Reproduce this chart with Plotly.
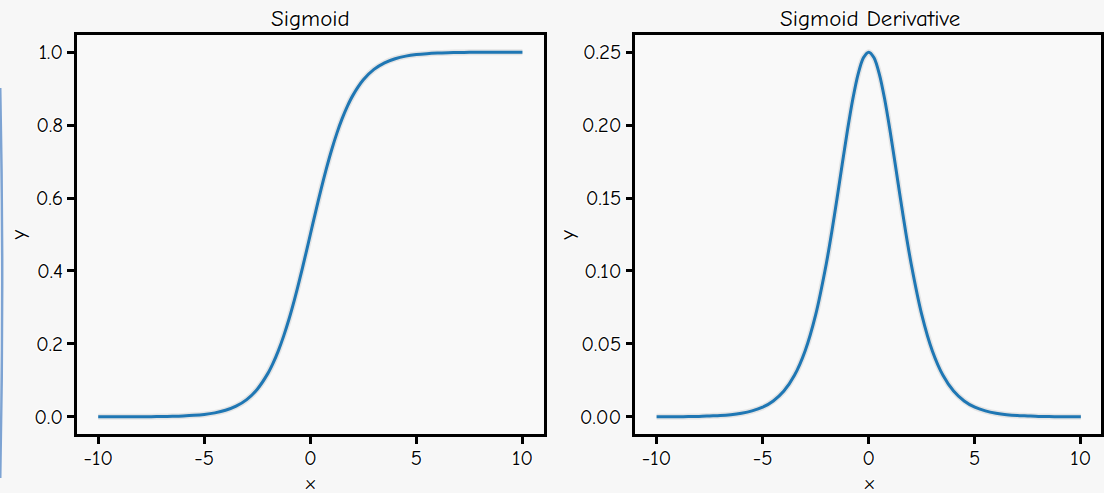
import plotly.graph_objects as go

# x values at which the curves were read
x_vals = [-10, -9.5, -9, -8.5, -8, -7.5, -7, -6.5, -6, -5.5, -5, -4.5, -4, -3.5, -3,
          -2.5, -2, -1.75, -1.5, -1.25, -1, -0.75, -0.5, -0.25, 0, 0.25, 0.5, 0.75, 1,
          1.25, 1.5, 1.75, 2, 2.5, 3, 3.5, 4, 4.5, 5,
          5.5, 6, 6.5, 7, 7.5, 8, 8.5, 9, 9.5, 10]

sigmoid_vals = [0.00005, 0.00007, 0.0001, 0.0002, 0.0003, 0.0006, 0.0009, 0.0015, 0.0025, 0.0041,
                0.0067, 0.0110, 0.0180, 0.0293, 0.0474, 0.0759, 0.1192, 0.1480, 0.1824, 0.2227,
                0.2689, 0.3208, 0.3775, 0.4378, 0.5000, 0.5622, 0.6225, 0.6792, 0.7311, 0.7773,
                0.8176, 0.8520, 0.8808, 0.9241, 0.9526, 0.9707, 0.9820, 0.9890,
                0.9933, 0.9959, 0.9975, 0.9985, 0.9991, 0.9994, 0.9997, 0.9998, 0.9999, 0.99993,
                0.99995]

deriv_vals = [0.00005, 0.00007, 0.0001, 0.0002, 0.0003, 0.0006, 0.0009, 0.0015, 0.0025, 0.0041,
              0.0066, 0.0109, 0.0177, 0.0285, 0.0452, 0.0701, 0.1050, 0.1261, 0.1491, 0.1731,
              0.1966, 0.2179, 0.2350, 0.2461, 0.2500, 0.2461, 0.2350, 0.2179, 0.1966, 0.1731,
              0.1491, 0.1261, 0.1050, 0.0701, 0.0452, 0.0285, 0.0177, 0.0109,
              0.0066, 0.0041, 0.0025, 0.0015, 0.0009, 0.0006, 0.0003, 0.0002, 0.0001, 0.00007,
              0.00005]

titles = ["Sigmoid", "Sigmoid Derivative"]
x_ticks = [-10, -5, 0, 5, 10]
x_ticktext = ["-10", "-5", "0", "5", "10"]
y1_ticks = [0.0, 0.2, 0.4, 0.6, 0.8, 1.0]
y1_ticktext = ["0.0", "0.2", "0.4", "0.6", "0.8", "1.0"]
y2_ticks = [0.00, 0.05, 0.10, 0.15, 0.20, 0.25]
y2_ticktext = ["0.00", "0.05", "0.10", "0.15", "0.20", "0.25"]

FONT = "Comic Sans MS, Comic Neue, Humor Sans, Noto Sans, sans-serif"
BLUE = "#1f77b4"
HALO = "1px 1px 1px #ffffff, -1px -1px 1px #ffffff, 1px -1px 1px #ffffff, -1px 1px 1px #ffffff"
TICK_SIZE = 21
TITLE_SIZE = 23

fig = go.Figure()

for xa, ya, yv in [("x", "y", sigmoid_vals), ("x2", "y2", deriv_vals)]:
    fig.add_trace(go.Scatter(x=x_vals, y=yv, xaxis=xa, yaxis=ya, mode="lines",
                             line=dict(color="#e4e4e4", width=6, shape="spline", smoothing=0.8),
                             hoverinfo="skip", showlegend=False))
    fig.add_trace(go.Scatter(x=x_vals, y=yv, xaxis=xa, yaxis=ya, mode="lines",
                             line=dict(color=BLUE, width=3, shape="spline", smoothing=0.8),
                             showlegend=False))

axis_common = dict(showline=True, mirror=True, linecolor="black", linewidth=2.5,
                   ticks="outside", ticklen=7, tickwidth=3, tickcolor="black",
                   showgrid=False, zeroline=False,
                   tickfont=dict(family=FONT, size=TICK_SIZE, color="black", shadow=HALO))

fig.update_layout(
    width=1104, height=493,
    margin=dict(l=77, r=0, t=35, b=59),
    paper_bgcolor="#f7f7f7",
    plot_bgcolor="#f9f9f9",
    font=dict(family=FONT, color="black"),
    xaxis=dict(domain=[0, 0.4557], range=[-11, 11], tickvals=x_ticks, ticktext=x_ticktext,
               anchor="y", ticklabelstandoff=-4, **axis_common),
    yaxis=dict(domain=[0, 1], range=[-0.047, 1.047], tickvals=y1_ticks, ticktext=y1_ticktext,
               anchor="x", **axis_common),
    xaxis2=dict(domain=[0.5453, 1], range=[-11, 10.95], tickvals=x_ticks, ticktext=x_ticktext,
                anchor="y2", ticklabelstandoff=-4, **axis_common),
    yaxis2=dict(domain=[0, 1], range=[-0.01175, 0.26175], tickvals=y2_ticks, ticktext=y2_ticktext,
                anchor="x2", **axis_common),
    showlegend=False,
)

def px_x(p):
    return (p - 77) / 1027.0

def px_y(p):
    return (434 - p) / 399.0

ann = []
for cx, title in [(311, titles[0]), (872, titles[1])]:
    ann.append(dict(text=title, x=px_x(cx), y=px_y(18), xref="paper", yref="paper",
                    showarrow=False, xanchor="center", yanchor="middle",
                    font=dict(family=FONT, size=TITLE_SIZE, color="black", shadow=HALO)))
    ann.append(dict(text="x", x=px_x(cx), y=px_y(483), xref="paper", yref="paper",
                    showarrow=False, xanchor="center", yanchor="middle",
                    font=dict(family=FONT, size=19, color="black", shadow=HALO)))
for lx in [18, 568]:
    ann.append(dict(text="y", x=px_x(lx), y=px_y(235), xref="paper", yref="paper",
                    showarrow=False, xanchor="center", yanchor="middle", textangle=-90,
                    font=dict(family=FONT, size=TICK_SIZE, color="black", shadow=HALO)))
fig.update_layout(annotations=ann)

# faint blue arc along the left edge of the image
fig.add_shape(type="path", xref="paper", yref="paper",
              path=f"M {px_x(0)} {px_y(88)} Q {px_x(4)} {px_y(280)} {px_x(0)} {px_y(478)}",
              line=dict(color="#4a80c4", width=2.5), opacity=0.7, layer="above")

fig.write_html("out.html")
